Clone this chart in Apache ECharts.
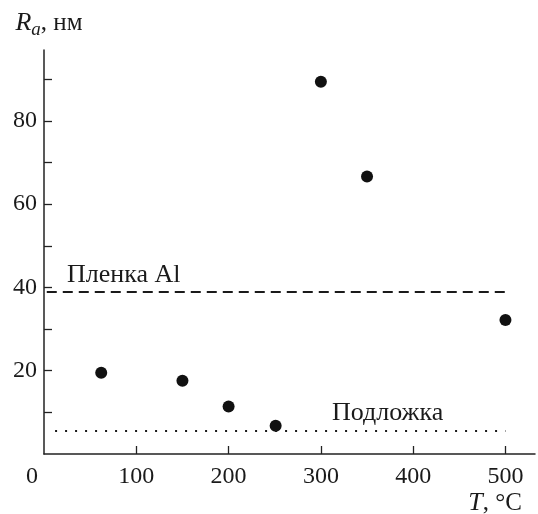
<!DOCTYPE html>
<html>
<head>
<meta charset="utf-8">
<script src="https://cdn.jsdelivr.net/npm/echarts@6/dist/echarts.min.js"></script>
<style>
  html, body { margin: 0; padding: 0; background: #fff; }
  #container { width: 538px; height: 514px; }
</style>
</head>
<body>
<div id="container"></div>
<script>
// данные: шероховатость Ra (нм) от температуры T (°C)
var temps = [62, 150, 200, 251, 300, 350, 500];
var ra = [19.5, 17.6, 11.4, 6.8, 89.4, 66.6, 32.2];
var filmLine = [[3, 38.9], [501, 38.9]];      // Пленка Al
var substrateLine = [[12, 5.5], [500, 5.5]];  // Подложка
var xTicks = [100, 200, 300, 400, 500];
var xLabels = [0, 100, 200, 300, 400, 500];
var yTicks = [10, 20, 30, 40, 50, 60, 70, 80, 90];
var yLabels = [20, 40, 60, 80];

var font = 'Liberation Serif';
var ink = '#1a1a1a';

var myChart = echarts.init(document.getElementById('container'), null, { renderer: 'canvas' });
var option = {
    animation: false,
    textStyle: { fontFamily: font },
    grid: { left: 44, right: 3, top: 50, bottom: 60 },
    xAxis: {
        type: 'value',
        min: 0,
        max: 532,
        splitLine: { show: false },
        axisLine: { lineStyle: { color: '#222', width: 1.5 } },
        axisTick: { inside: true, length: 8, customValues: xTicks, lineStyle: { color: '#222', width: 1.3 } },
        axisLabel: {
            customValues: xLabels,
            margin: 11,
            fontFamily: font, fontSize: 24, color: ink,
            formatter: function (v) { return v === 0 ? '{z|0}' : String(v); },
            rich: { z: { fontFamily: font, fontSize: 24, color: ink, padding: [0, 24, 0, 0] } }
        }
    },
    yAxis: {
        type: 'value',
        min: 0,
        max: 97,
        splitLine: { show: false },
        axisLine: { lineStyle: { color: '#222', width: 1.5 } },
        axisTick: { inside: true, length: 8, customValues: yTicks, lineStyle: { color: '#222', width: 1.3 } },
        axisLabel: { customValues: yLabels, margin: 7, fontFamily: font, fontSize: 24, color: ink },
        name: '{i|R}{s|a}{n|, нм}',
        nameLocation: 'end',
        nameGap: 11,
        nameTextStyle: {
            align: 'center',
            fontFamily: font,
            padding: [0, 0, 0, 10],
            rich: {
                i: { fontFamily: font, fontStyle: 'italic', fontSize: 26, color: ink },
                s: { fontFamily: font, fontStyle: 'italic', fontSize: 19, color: ink, padding: [12, 0, 0, 0] },
                n: { fontFamily: font, fontSize: 25, color: ink }
            }
        }
    },
    graphic: [
        { type: 'text', left: 67, top: 262, style: { text: 'Пленка Al', fontFamily: font, fontSize: 26, fill: ink } },
        { type: 'text', left: 332, top: 400, style: { text: 'Подложка', fontFamily: font, fontSize: 26, fill: ink } },
        {
            type: 'text', right: 16, top: 490,
            style: {
                text: '{i|T}{n|, °C}',
                fontFamily: font, fontSize: 25, fill: ink,
                rich: {
                    i: { fontFamily: font, fontStyle: 'italic', fontSize: 26, fill: ink },
                    n: { fontFamily: font, fontSize: 25, fill: ink }
                }
            }
        }
    ],
    series: [
        {
            type: 'line', data: filmLine, symbol: 'none', silent: true,
            lineStyle: { color: '#1a1a1a', width: 2, type: [10, 6] }
        },
        {
            type: 'line', data: substrateLine, symbol: 'none', silent: true,
            lineStyle: { color: '#1a1a1a', width: 2, type: [2, 8] }
        },
        {
            type: 'scatter',
            data: temps.map(function (t, i) { return [t, ra[i]]; }),
            symbol: 'circle', symbolSize: 12,
            itemStyle: { color: '#111', opacity: 1 }
        }
    ]
};
myChart.setOption(option);
</script>
</body>
</html>
